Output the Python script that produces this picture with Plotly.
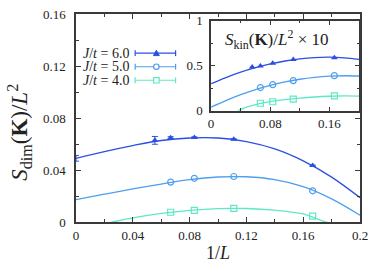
import plotly.graph_objects as go

# ---------------- data ----------------
invL = [1/18, 1/15, 1/12, 1/9, 1/6]
invL4 = [1/15, 1/12, 1/9, 1/6]

# main panel: S_dim(K)/L^2
sdim6 = [0.0628, 0.0648, 0.0650, 0.0636, 0.0434]
sdim6_err = [0.0030, 0.0008, 0.0005, 0.0004, 0.0004]
sdim5 = [0.0307, 0.0336, 0.0350, 0.0240]
sdim4 = [0.0075, 0.0090, 0.0105, 0.0045]
extrap6_x = [0.0]
extrap6_y = [0.0490]
extrap6_err = [0.0022]

# fitted curves (main)
fit_x = [0.0, 0.02, 0.04, 0.06, 0.08, 0.10, 0.12, 0.14, 0.16, 0.18, 0.20]
fit6 = [0.0490, 0.0542, 0.0588, 0.0627, 0.0646, 0.0646, 0.0618, 0.0562, 0.0470, 0.0345, 0.0187]
fit5 = [0.0172, 0.0214, 0.0254, 0.0292, 0.0326, 0.0346, 0.0348, 0.0326, 0.0272, 0.0178, 0.0052]
fit4_x = [0.015, 0.026, 0.04, 0.06, 0.08, 0.10, 0.12, 0.14, 0.16, 0.176, 0.19]
fit4 = [-0.0028, 0.0, 0.0031, 0.0066, 0.0090, 0.0103, 0.0104, 0.0091, 0.0062, 0.0, -0.0035]

# inset: S_kin(K)/L^2 x 10
skin6 = [0.487, 0.497, 0.527, 0.570, 0.590]
skin5 = [0.258, 0.290, 0.335, 0.390]
skin4 = [0.083, 0.100, 0.130, 0.165]
ifit6 = [0.300, 0.368, 0.428, 0.478, 0.520, 0.553, 0.577, 0.591, 0.595, 0.588, 0.572]
ifit5 = [0.040, 0.112, 0.178, 0.236, 0.283, 0.320, 0.350, 0.372, 0.385, 0.389, 0.386]
ifit4_x = [0.036, 0.05, 0.0667, 0.08, 0.10, 0.12, 0.14, 0.16, 0.18, 0.20]
ifit4 = [0.0, 0.045, 0.082, 0.102, 0.123, 0.140, 0.153, 0.161, 0.165, 0.163]

labels = ["<i>J</i>/<i>t</i> = 6.0", "<i>J</i>/<i>t</i> = 5.0", "<i>J</i>/<i>t</i> = 4.0"]
colors = ["#2b4fe3", "#4d9ff0", "#5fe8c6"]

xticks_main = [0, 0.04, 0.08, 0.12, 0.16, 0.2]
yticks_main = [0, 0.04, 0.08, 0.12, 0.16]
xticks_inset = [0, 0.08, 0.16]
yticks_inset = [0, 0.5, 1]

FONT = "Liberation Serif"
AX = "#3a3a3a"

fig = go.Figure()

# main curves
fig.add_trace(go.Scatter(x=fit_x, y=fit6, mode="lines", line=dict(color=colors[0], width=1.3, shape="spline"), showlegend=False))
fig.add_trace(go.Scatter(x=fit_x, y=fit5, mode="lines", line=dict(color=colors[1], width=1.3, shape="spline"), showlegend=False))
fig.add_trace(go.Scatter(x=fit4_x, y=fit4, mode="lines", line=dict(color=colors[2], width=1.3, shape="spline"), showlegend=False))

# main points
fig.add_trace(go.Scatter(x=invL, y=sdim6, mode="markers",
                         marker=dict(symbol="triangle-up", size=6, color=colors[0]),
                         error_y=dict(type="data", array=sdim6_err, color=colors[0], width=3, thickness=1),
                         showlegend=False))
fig.add_trace(go.Scatter(x=extrap6_x, y=extrap6_y, mode="markers",
                         marker=dict(size=1, color=colors[0], opacity=0),
                         error_y=dict(type="data", array=extrap6_err, color=colors[0], width=3, thickness=1),
                         showlegend=False, cliponaxis=False))
fig.add_trace(go.Scatter(x=invL4, y=sdim5, mode="markers",
                         marker=dict(symbol="circle-open", size=6, color=colors[1], line=dict(width=1.2)),
                         showlegend=False))
fig.add_trace(go.Scatter(x=invL4, y=sdim4, mode="markers",
                         marker=dict(symbol="square-open", size=6, color=colors[2], line=dict(width=1.2)),
                         showlegend=False, cliponaxis=False))

# inset curves
fig.add_trace(go.Scatter(x=fit_x, y=ifit6, mode="lines", xaxis="x2", yaxis="y2",
                         line=dict(color=colors[0], width=1.3, shape="spline"), showlegend=False))
fig.add_trace(go.Scatter(x=fit_x, y=ifit5, mode="lines", xaxis="x2", yaxis="y2",
                         line=dict(color=colors[1], width=1.3, shape="spline"), showlegend=False))
fig.add_trace(go.Scatter(x=ifit4_x, y=ifit4, mode="lines", xaxis="x2", yaxis="y2",
                         line=dict(color=colors[2], width=1.3, shape="spline"), showlegend=False))
fig.add_trace(go.Scatter(x=invL, y=skin6, mode="markers", xaxis="x2", yaxis="y2",
                         marker=dict(symbol="triangle-up", size=6, color=colors[0]), showlegend=False))
fig.add_trace(go.Scatter(x=invL4, y=skin5, mode="markers", xaxis="x2", yaxis="y2",
                         marker=dict(symbol="circle-open", size=6, color=colors[1], line=dict(width=1.2)), showlegend=False))
fig.add_trace(go.Scatter(x=invL4, y=skin4, mode="markers", xaxis="x2", yaxis="y2",
                         marker=dict(symbol="square-open", size=6, color=colors[2], line=dict(width=1.2)), showlegend=False))

# ---------- custom legend (paper coords) ----------
L, R, T, B = 76, 364, 7, 222
def px(xp): return (xp - L) / (R - L)
def py(yp): return 1 - (yp - T) / (B - T)

shapes = []
annotations = []
rows = [47.5, 61.5, 75.5]
for i, yrow in enumerate(rows):
    c = colors[i]
    annotations.append(dict(x=px(132), y=py(yrow), xref="paper", yref="paper", text=labels[i],
                            showarrow=False, xanchor="right", yanchor="middle",
                            font=dict(family=FONT, size=14, color="#222")))
    shapes.append(dict(type="line", xref="paper", yref="paper", x0=px(136), x1=px(177), y0=py(yrow), y1=py(yrow),
                       line=dict(color=c, width=1.2)))
    for xc in (136, 177):
        shapes.append(dict(type="line", xref="paper", yref="paper", x0=px(xc), x1=px(xc), y0=py(yrow - 3), y1=py(yrow + 3),
                           line=dict(color=c, width=1.2)))
    mx = 157.5
    if i == 0:
        shapes.append(dict(type="path", xref="paper", yref="paper",
                           path=f"M {px(mx-3)} {py(yrow+2.5)} L {px(mx+3)} {py(yrow+2.5)} L {px(mx)} {py(yrow-3)} Z",
                           fillcolor=c, line=dict(color=c, width=1)))
    elif i == 1:
        shapes.append(dict(type="circle", xref="paper", yref="paper", x0=px(mx-2.8), x1=px(mx+2.8),
                           y0=py(yrow+2.8), y1=py(yrow-2.8), fillcolor="white", line=dict(color=c, width=1.2)))
    else:
        shapes.append(dict(type="rect", xref="paper", yref="paper", x0=px(mx-2.8), x1=px(mx+2.8),
                           y0=py(yrow+2.8), y1=py(yrow-2.8), fillcolor="white", line=dict(color=c, width=1.2)))

# inset label
annotations.append(dict(x=px(280), y=py(33), xref="paper", yref="paper",
                        text="<i>S</i><sub>kin</sub>(<b>K</b>)/<i>L</i><sup>2</sup> × 10",
                        showarrow=False, xanchor="center", yanchor="middle",
                        font=dict(family=FONT, size=17, color="#222")))
# axis titles
annotations.append(dict(x=px(220), y=py(254), xref="paper", yref="paper",
                        text="1/<i>L</i>", showarrow=False, xanchor="center", yanchor="middle",
                        font=dict(family=FONT, size=18, color="#222")))
annotations.append(dict(x=px(18), y=py(129), xref="paper", yref="paper", textangle=-90,
                        text="<i>S</i><sub>dim</sub>(<b>K</b>)/<i>L</i><sup>2</sup>",
                        showarrow=False, xanchor="center", yanchor="middle",
                        font=dict(family=FONT, size=23, color="#222")))

axis_common = dict(showgrid=False, zeroline=False, showline=True, linecolor=AX, linewidth=1.5,
                   ticks="inside", tickcolor=AX, mirror="allticks",
                   tickfont=dict(family=FONT, size=13, color="#222"))

fig.update_layout(
    width=375, height=266,
    margin=dict(l=L, r=375 - R, t=T, b=266 - B),
    paper_bgcolor="white", plot_bgcolor="white",
    showlegend=False,
    font=dict(family=FONT, color="#222"),
    xaxis=dict(range=[0, 0.2], tickvals=xticks_main, ticktext=["0", "0.04", "0.08", "0.12", "0.16", "0.2"],
               ticklen=5, minor=dict(dtick=0.02, ticklen=3, ticks="inside", tickcolor=AX),
               ticklabelstandoff=1, **axis_common),
    yaxis=dict(range=[0, 0.16], tickvals=yticks_main, ticktext=["0", "0.04", "0.08", "0.12", "0.16"],
               ticklen=5, minor=dict(dtick=0.02, ticklen=3, ticks="inside", tickcolor=AX),
               ticklabelstandoff=6, **axis_common),
    xaxis2=dict(domain=[px(213), px(363)], anchor="y2", range=[0, 0.2], tickvals=xticks_inset,
                ticktext=["0", "0.08", "0.16"], ticklen=4,
                minor=dict(dtick=0.04, ticklen=2.5, ticks="inside", tickcolor=AX),
                **axis_common),
    yaxis2=dict(domain=[py(107), py(14)], anchor="x2", range=[0, 1], tickvals=yticks_inset,
                ticktext=["0", "0.5", "1"], ticklen=4,
                minor=dict(dtick=0.25, ticklen=2.5, ticks="inside", tickcolor=AX),
                ticklabelstandoff=4, **axis_common),
    shapes=shapes,
    annotations=annotations,
)

fig.write_html("out.html", config={"displayModeBar": False},
               post_script="document.body.style.margin='0';document.body.style.overflow='hidden';")
